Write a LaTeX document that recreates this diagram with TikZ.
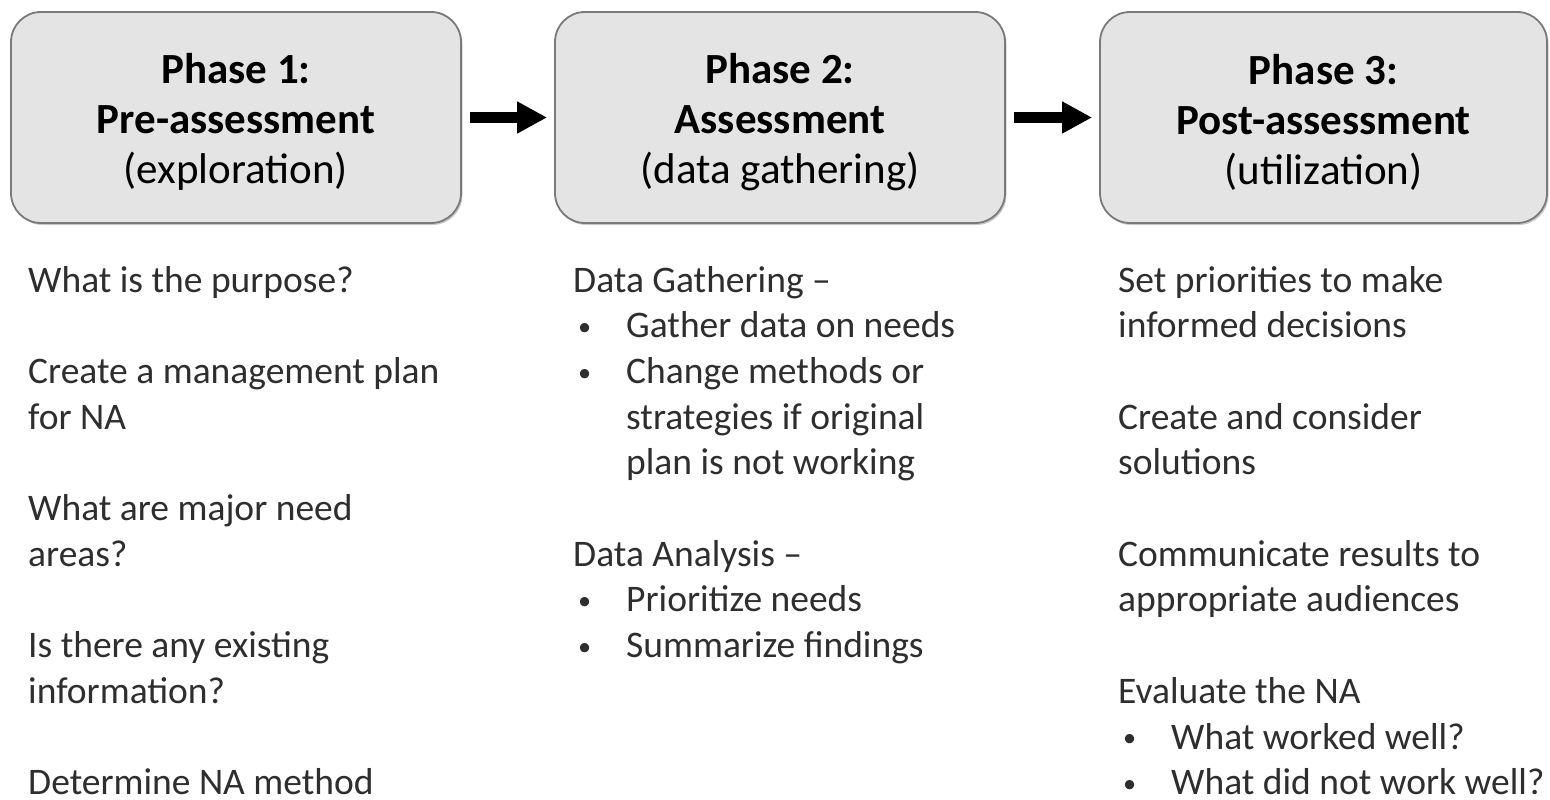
\documentclass[tikz,border=0pt]{standalone}
\usepackage{fontspec}
\setmainfont{Carlito}
\usetikzlibrary{arrows.meta,shadows}
\definecolor{boxfill}{HTML}{E4E4E4}
\definecolor{boxline}{HTML}{7A7A7A}
\definecolor{bodytext}{HTML}{2E2E2E}
\tikzset{
  phasebox/.style={draw=boxline, line width=1.8pt, fill=boxfill, rounded corners=30pt,
    minimum width=450pt, minimum height=211pt, inner sep=0pt,
    drop shadow={shadow xshift=1.5pt, shadow yshift=-2pt, opacity=0.35, fill=black!60}},
  phasetext/.style={align=center, inner sep=0pt, text=black,
    font=\fontsize{43}{50}\selectfont},
  flowarrow/.style={line width=11pt, -{Triangle[length=30pt,width=30pt]}},
  coltext/.style={anchor=base west, align=left, inner sep=0pt, text=bodytext,
    font=\fontsize{37.5}{45.7}\selectfont}
}
\newcommand{\bul}{\hspace*{5pt}\makebox[48pt][l]{\raisebox{0.06em}{\scalebox{0.7}{•}}}}
\newcommand{\bulind}{\hspace*{53pt}}
\begin{document}
\begin{tikzpicture}[x=1pt,y=-1pt]
\useasboundingbox (0,0) rectangle (1550,800);
\fill[white] (0,0) rectangle (1550,800);
\node[phasebox] (p1) at (236,117.5) {};
\node[phasebox] (p2) at (780,117.5) {};
\node[phasebox, minimum width=447pt] (p3) at (1323.5,117.5) {};
\node[phasetext] (t1) at (236,122) {\textbf{Phase 1:}\\\textbf{Pre-assessment}\\(exploration)};
\node[phasetext] (t2) at (780,122) {\textbf{Phase 2:}\\\textbf{Assessment}\\(data gathering)};
\node[phasetext] (t3) at (1323.5,122) {\textbf{Phase 3:}\\\textbf{Post-assessment}\\(utilization)};
\draw[flowarrow, shorten <=8pt, shorten >=7pt] (p1.east) -- (p2.west);
\draw[flowarrow, shorten <=8pt, shorten >=7pt] (p2.east) -- (p3.west);
\node[coltext] (c1) at (28,794.7) {What is the purpose?\\[45.7pt]
Create a management plan\\for NA\\[45.7pt]
What are major need\\areas?\\[45.7pt]
Is there any existing\\information?\\[45.7pt]
Determine NA method};
\node[coltext] (c2) at (573,657.6) {Data Gathering --\\
\bul Gather data on needs\\
\bul Change methods or\\
\bulind strategies if original\\
\bulind plan is not working\\[45.7pt]
Data Analysis --\\
\bul Prioritize needs\\
\bul Summarize findings};
\node[coltext] (c3) at (1118,794.7) {Set priorities to make\\informed decisions\\[45.7pt]
Create and consider\\solutions\\[45.7pt]
Communicate results to\\appropriate audiences\\[45.7pt]
Evaluate the NA\\
\bul What worked well?\\
\bul What did not work well?};
\end{tikzpicture}
\end{document}
